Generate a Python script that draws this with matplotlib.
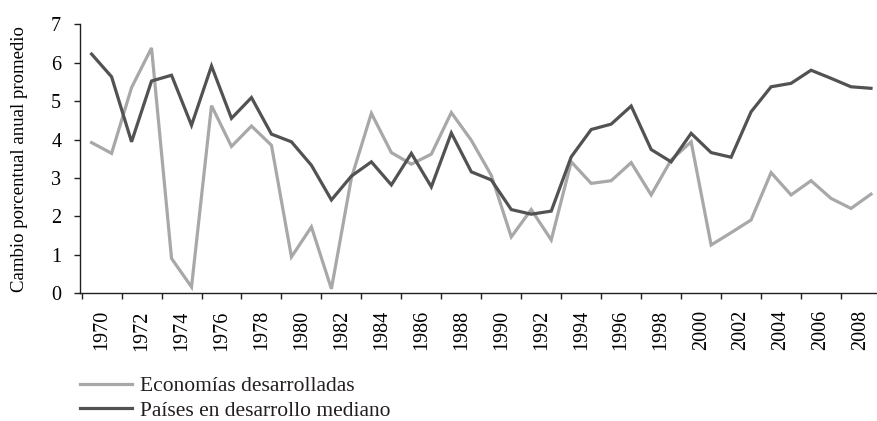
import matplotlib
matplotlib.use('Agg')

import numpy as np
import matplotlib.pyplot as plt

plt.rcParams['font.family'] = ['Liberation Serif', 'DejaVu Serif']
plt.rcParams['text.color'] = '#231f20'

years = list(range(1970, 2010))
desarrolladas = [3.92, 3.64, 5.35, 6.38, 0.91, 0.17, 4.88, 3.82, 4.35, 3.85,
                 0.95, 1.73, 0.12, 3.00, 4.68, 3.66, 3.36, 3.62, 4.70, 3.98,
                 3.07, 1.47, 2.18, 1.39, 3.42, 2.86, 2.93, 3.40, 2.56, 3.47,
                 3.94, 1.26, 1.58, 1.91, 3.14, 2.56, 2.93, 2.47, 2.21, 2.58]
mediano = [6.22, 5.63, 3.94, 5.52, 5.67, 4.37, 5.91, 4.55, 5.09, 4.14,
           3.94, 3.33, 2.43, 3.05, 3.42, 2.82, 3.64, 2.77, 4.17, 3.16,
           2.95, 2.18, 2.06, 2.14, 3.55, 4.26, 4.40, 4.87, 3.74, 3.42,
           4.16, 3.66, 3.54, 4.72, 5.37, 5.46, 5.80, 5.59, 5.37, 5.33]
year_labels = [str(y) for y in years if y % 2 == 0 and y <= 2008]

x = np.arange(len(years))

fig = plt.figure(figsize=(8.77, 4.21), dpi=100)
ax = fig.add_axes([80 / 877, 0.3029, 797 / 877, 0.640])

l1, = ax.plot(x, desarrolladas, color='#a7a8aa', lw=2.3, solid_joinstyle='miter', clip_on=False)
l2, = ax.plot(x, mediano, color='#525253', lw=2.3, solid_joinstyle='miter', clip_on=False)

ax.set_xlim(-0.58, 39.3)
ax.set_ylim(0, 7)
ax.set_yticks(range(0, 8))

# labels sit on every other boundary tick, one per even year
ax.set_xticks(np.arange(0, len(year_labels)) * 2 + 0.5)
ax.set_xticklabels(year_labels, rotation=90, fontsize=14.5)
ax.set_xticks(np.arange(-0.5, 39.5, 1), minor=True)
ax.tick_params(axis='x', which='major', length=0, pad=12)
ax.tick_params(axis='x', which='minor', length=4.5, width=1, color='#231f20', direction='out')
ax.tick_params(axis='y', length=4.5, width=1, color='#231f20', pad=9, labelsize=14.5)

for side in ['top', 'right']:
    ax.spines[side].set_visible(False)
for side in ['left', 'bottom']:
    ax.spines[side].set_color('#231f20')
    ax.spines[side].set_linewidth(1)

ax.set_ylabel('Cambio porcentual anual promedio', fontsize=13.5, labelpad=17)

fig.legend([l1, l2], ['Economías desarrolladas', 'Países en desarrollo mediano'],
           loc='upper left', bbox_to_anchor=(80 / 877, 1 - 376 / 421),
           frameon=False, fontsize=15.5, handlelength=2.4, handletextpad=0.4,
           labelspacing=0.22, borderpad=0, borderaxespad=0)

plt.savefig('out.png', dpi=100)
